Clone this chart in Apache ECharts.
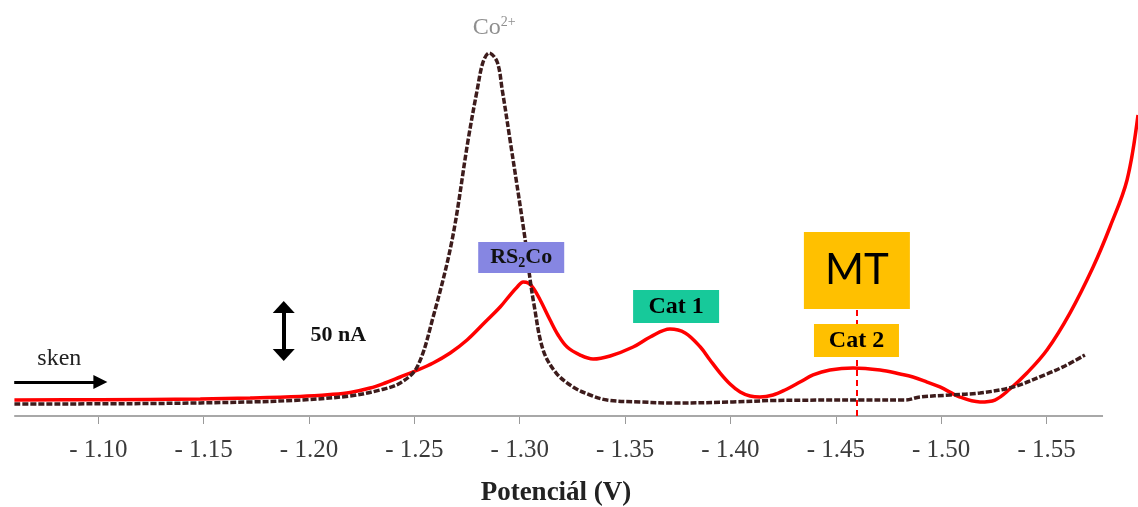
<!DOCTYPE html>
<html>
<head>
<meta charset="utf-8">
<script src="https://cdn.jsdelivr.net/npm/echarts@6/dist/echarts.min.js"></script>
<style>html,body{margin:0;padding:0;background:#fff;}#chart{width:1138px;height:507px;}</style>
</head>
<body>
<div id="chart"></div>
<script>
// Potential (V) and current (nA)
const redPotential = [-1.0602,-1.1009,-1.1484,-1.1721,-1.1958,-1.2101,-1.2195,-1.2290,-1.2361,-1.2433,-1.2504,-1.2589,-1.2670,-1.2750,-1.2836,-1.2907,-1.2954,-1.2988,-1.3016,-1.3040,-1.3064,-1.3097,-1.3144,-1.3182,-1.3225,-1.3287,-1.3348,-1.3429,-1.3538,-1.3619,-1.3713,-1.3785,-1.3857,-1.3903,-1.3951,-1.3998,-1.4046,-1.4093,-1.4140,-1.4202,-1.4259,-1.4330,-1.4392,-1.4472,-1.4582,-1.4710,-1.4805,-1.4866,-1.4933,-1.4994,-1.5089,-1.5184,-1.5255,-1.5326,-1.5407,-1.5502,-1.5611,-1.5721,-1.5801,-1.5882,-1.5934];
const redCurrent   = [13.3,13.6,14.2,15.0,16.3,17.9,19.6,23.3,27.5,32.5,37.5,44.2,52.5,63.3,78.3,90.8,100.8,107.5,111.7,110.8,106.7,96.7,80.0,67.5,57.5,50.8,47.5,50.0,57.5,65.8,72.5,69.2,57.5,46.7,35.8,26.7,20.0,16.7,15.8,17.5,21.7,28.3,34.2,38.3,40.0,38.3,35.0,32.5,28.3,24.2,15.8,11.7,13.3,22.5,35.8,55.0,85.8,124.2,157.5,196.7,250.8];

const coPotential = [-1.0602,-1.1247,-1.1721,-1.1958,-1.2195,-1.2338,-1.2433,-1.2513,-1.2589,-1.2679,-1.2755,-1.2798,-1.2826,-1.2855,-1.2893,-1.2917,-1.2954,-1.3026,-1.3045,-1.3068,-1.3111,-1.3173,-1.3253,-1.3334,-1.3415,-1.3571,-1.3728,-1.4012,-1.4202,-1.4615,-1.4828,-1.4899,-1.5042,-1.5184,-1.5341,-1.5502,-1.5587,-1.5682];
const coCurrent   = [10.0,10.4,11.7,13.3,16.7,21.7,27.5,40.8,82.5,146.7,230.0,271.7,295.0,302.5,295.0,271.7,230.0,146.7,119.2,92.5,55.0,35.8,24.2,17.5,13.3,11.7,10.8,11.7,12.9,13.3,13.3,15.8,17.5,19.2,24.2,35.0,41.7,50.8];

const tickValues = [-1.10,-1.15,-1.20,-1.25,-1.30,-1.35,-1.40,-1.45,-1.50,-1.55];
const axisStart = -1.0601, axisEnd = -1.5768;
const axisTitle = 'Potenciál (V)';
const scaleBarNA = 50;
const mtPotential = -1.46;

const zip = (xs, ys) => xs.map((x, i) => [x, ys[i]]);
const serif = 'Liberation Serif';

const chart = echarts.init(document.getElementById('chart'), null, {renderer: 'canvas'});

const boxLabel = (txt, coord, bg, w, h, font, fs, bold, rich) => ({
  coord: coord,
  symbol: 'rect',
  symbolSize: [w, h],
  itemStyle: {color: bg},
  label: {
    show: true, position: 'inside', formatter: txt,
    fontFamily: font, fontSize: fs, fontWeight: bold ? 'bold' : 'normal',
    color: '#000', rich: rich || {}
  }
});

const option = {
  animation: false,
  backgroundColor: '#ffffff',
  grid: {left: 14, right: 0, top: 0, bottom: 91, containLabel: false, outerBoundsMode: 'none'},
  xAxis: {
    type: 'value',
    min: -1.5934, max: -1.0600,
    inverse: true,
    splitLine: {show: false},
    axisLine: {show: false},
    axisTick: {show: true, customValues: tickValues, length: 8, lineStyle: {color: '#9a9a9a', width: 1}},
    axisLabel: {
      show: true, customValues: tickValues, margin: 22,
      fontFamily: serif, fontSize: 25, color: '#3a3a3a',
      formatter: v => '- ' + Math.abs(v).toFixed(2)
    },
    name: axisTitle, nameLocation: 'middle', nameGap: 64,
    nameTextStyle: {fontFamily: serif, fontSize: 27, fontWeight: 'bold', color: '#222', padding: [0, 40, 0, 0]}
  },
  yAxis: {type: 'value', min: 0, max: 346.67, show: false},
  series: [
    {
      name: 'axis', type: 'line', data: [], z: 1,
      markLine: {
        silent: true, animation: false, symbol: 'none', label: {show: false},
        lineStyle: {color: '#a8a8a8', width: 2, type: 'solid'},
        data: [[{coord: [axisStart, 0]}, {coord: [axisEnd, 0]}]]
      }
    },
    {
      name: 'red', type: 'line', data: zip(redPotential, redCurrent),
      smooth: 0.35, showSymbol: false, symbol: 'none', clip: false, z: 2,
      lineStyle: {color: '#ff0000', width: 3.5}
    },
    {
      name: 'co', type: 'line', data: zip(coPotential, coCurrent),
      smooth: 0.35, showSymbol: false, symbol: 'none', clip: false, z: 3,
      lineStyle: {color: '#3d1c1c', width: 3.5, type: [6, 2]}
    },
    {
      name: 'labels', type: 'line', data: [], z: 4,
      markPoint: {
        silent: true,
        data: [
          {
            coord: [-1.2879, 323.3], symbol: 'rect', symbolSize: 0,
            label: {show: true, position: 'inside', formatter: '{a|Co}{s|2+}',
              rich: {a: {fontFamily: serif, fontSize: 24, color: '#8f8f8f', lineHeight: 26},
                     s: {fontFamily: serif, fontSize: 14, color: '#8f8f8f', lineHeight: 26, verticalAlign: 'top', padding: [0,0,6,0]}}}
          },
          boxLabel('{b|RS}{s|2}{b|Co}', [-1.3007, 132.1], '#8686e2', 86, 31, serif, 22, true,
            {b: {fontFamily: serif, fontSize: 22, fontWeight: 'bold', color: '#111', lineHeight: 26},
             s: {fontFamily: serif, fontSize: 14, fontWeight: 'bold', color: '#111', lineHeight: 26, verticalAlign: 'bottom', padding: [8,0,0,0]}}),
          boxLabel('Cat 1', [-1.3742, 91.25], '#17c99a', 86, 33, serif, 24, true),
          boxLabel('MT', [-1.4600, 121.25], '#ffc000', 106, 77, 'Lato', 42, false),
          boxLabel('Cat 2', [-1.4598, 62.9], '#ffc000', 85, 33, serif, 24, true),
          {
            coord: [-1.2139, 67.5], symbol: 'rect', symbolSize: 0,
            label: {show: true, position: 'inside', formatter: scaleBarNA + ' nA',
              fontFamily: serif, fontSize: 22, fontWeight: 'bold', color: '#111'}
          },
          {
            coord: [-1.0815, 47.5], symbol: 'rect', symbolSize: 0,
            label: {show: true, position: 'inside', formatter: 'sken',
              fontFamily: serif, fontSize: 24, color: '#222'}
          }
        ]
      },
      markLine: {
        silent: true, animation: false,
        label: {show: false},
        data: [
          [
            {coord: [-1.188, 50.8], symbol: 'triangle', symbolSize: [22, 12]},
            {coord: [-1.188, 90.8], symbol: 'triangle', symbolSize: [22, 12], lineStyle: {color: '#000', width: 4, type: 'solid'}}
          ],
          [
            {coord: [-1.0601, 28.3], symbol: 'none'},
            {coord: [-1.1010, 28.3], symbol: 'triangle', symbolSize: [14, 14], lineStyle: {color: '#000', width: 3, type: 'solid'}}
          ]
        ]
      }
    },
    {
      name: 'mt', type: 'line', data: [], z: 6,
      markLine: {
        silent: true, animation: false, symbol: 'none',
        label: {show: false},
        lineStyle: {color: '#ff0000', width: 2, type: [6, 4]},
        data: [[{coord: [mtPotential, 0]}, {coord: [mtPotential, 98.3]}]]
      }
    }
  ]
};
chart.setOption(option);
</script>
</body>
</html>
